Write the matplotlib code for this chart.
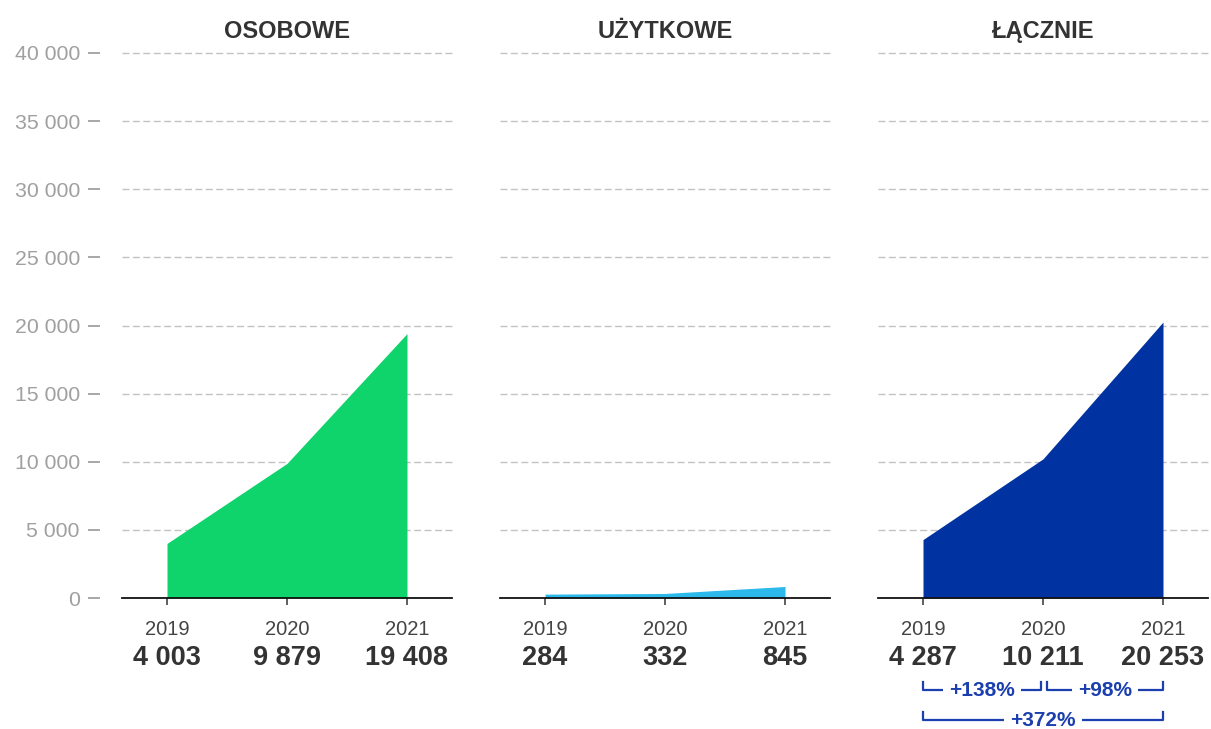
import matplotlib.pyplot as plt
from matplotlib import transforms

plt.rcParams['font.family'] = ['Liberation Sans', 'DejaVu Sans']

years = [2019, 2020, 2021]
osobowe = [4003, 9879, 19408]
uzytkowe = [284, 332, 845]
lacznie = [4287, 10211, 20253]

titles = ['OSOBOWE', 'UŻYTKOWE', 'ŁĄCZNIE']
colors = ['#0fd36b', '#2bb8ea', '#0033a1']
y_ticks = [0, 5000, 10000, 15000, 20000, 25000, 30000, 35000, 40000]
ann_color = '#1b3fae'


def fmt(v):
    return '{:,}'.format(v).replace(',', ' ')


def draw_panel(ax, title, values, color, show_y):
    ax.fill_between(years, 0, values, color=color, lw=0)
    ax.set_xlim(2018.625, 2021.375)
    ax.set_ylim(0, 40000)
    ax.set_yticks(y_ticks)
    for y in y_ticks[1:]:
        ax.axhline(y, color='#c2c2c2', lw=1, ls=(0, (5, 2.5)), clip_on=False, zorder=0)
    for s in ['top', 'right']:
        ax.spines[s].set_visible(False)
    ax.spines['bottom'].set_color('#111111')
    ax.spines['bottom'].set_linewidth(1.3)
    ax.spines['left'].set_position(('outward', 15.8))
    ax.spines['left'].set_visible(False)
    if show_y:
        ax.set_yticklabels([fmt(v) for v in y_ticks], color='#a0a0a0', fontsize=15.3)
        ax.tick_params(axis='y', length=8.6, width=1.3, color='#a0a0a0', pad=6)
    else:
        ax.tick_params(axis='y', left=False, labelleft=False)
    ax.set_xticks(years)
    ax.set_xticklabels([str(y) for y in years], fontsize=14.5, color='#444444')
    ax.tick_params(axis='x', length=5, width=1.2, color='#444444', pad=11)
    ax.set_title(title, fontsize=17, fontweight='bold', color='#333333', pad=11)
    trans = transforms.blended_transform_factory(ax.transData, ax.transAxes)
    for x, v in zip(years, values):
        ax.text(x, -0.111, fmt(v), transform=trans, ha='center', va='center',
                fontsize=19.5, fontweight='bold', color='#333333')


def bracket(ax, x0, x1, y, text):
    trans = transforms.blended_transform_factory(ax.transData, ax.transAxes)
    h = 0.015
    ax.plot([x0, x0, x1, x1], [y + h, y, y, y + h], color=ann_color, lw=1.6,
            transform=trans, clip_on=False)
    ax.text((x0 + x1) / 2, y, text, transform=trans, ha='center', va='center',
            fontsize=15, fontweight='bold', color=ann_color,
            bbox=dict(facecolor='white', edgecolor='none', pad=4.5))


fig = plt.figure(figsize=(12.11, 7.29), dpi=100)
bottom = (729 - 598) / 729
height = 545 / 729
width = 330 / 1211
axes = [fig.add_axes([left / 1211, bottom, width, height]) for left in (122, 500, 878)]

for ax, title, values, color, show_y in zip(axes, titles, [osobowe, uzytkowe, lacznie],
                                            colors, [True, False, False]):
    draw_panel(ax, title, values, color, show_y)

ax3 = axes[2]
growth_a = round((lacznie[1] / lacznie[0] - 1) * 100)
growth_b = round((lacznie[2] / lacznie[1] - 1) * 100)
growth_ab = round((lacznie[2] / lacznie[0] - 1) * 100)
bracket(ax3, years[0], years[1] - 0.02, -0.169, '+{}%'.format(growth_a))
bracket(ax3, years[1] + 0.03, years[2], -0.169, '+{}%'.format(growth_b))
bracket(ax3, years[0], years[2], -0.224, '+{}%'.format(growth_ab))

fig.savefig('out.png', dpi=100)
